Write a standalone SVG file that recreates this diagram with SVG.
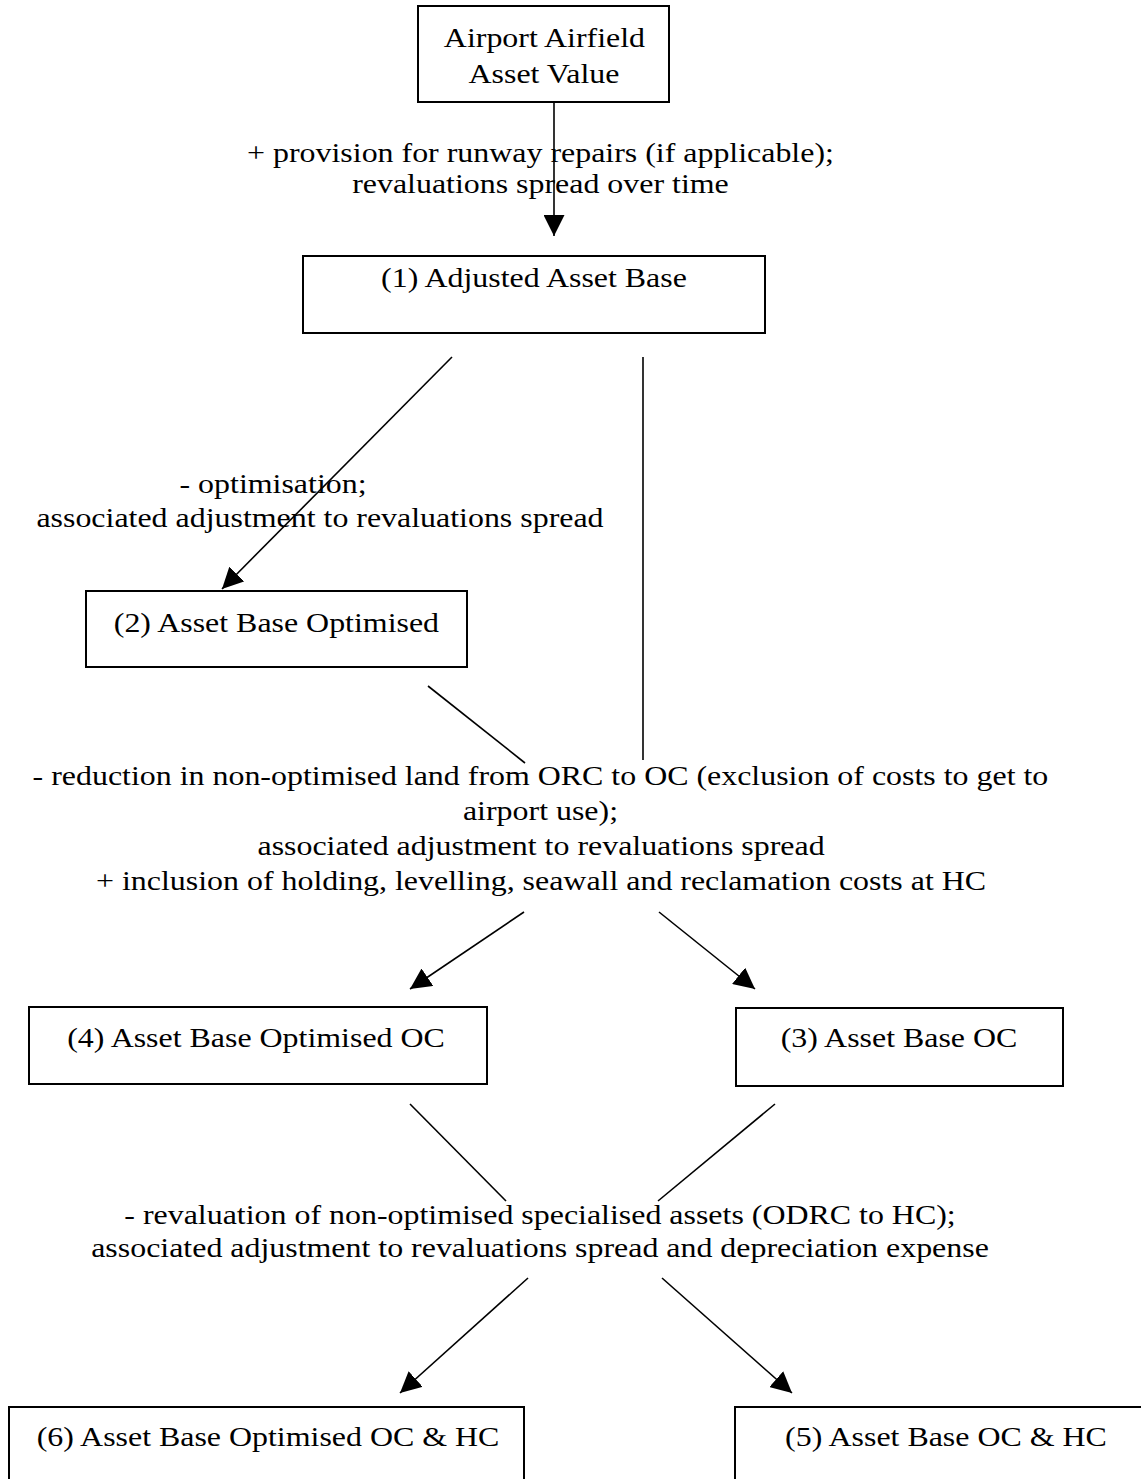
<svg xmlns="http://www.w3.org/2000/svg" width="1141" height="1479" viewBox="0 0 1141 1479">
<style>
.box{fill:#fff;stroke:#000;stroke-width:2}
.t{font-family:"Liberation Serif","Times New Roman",serif;font-size:28px;fill:#000;text-anchor:middle}
.c{stroke:#000;stroke-width:1.6;fill:none}
</style>
<defs>
<marker id="ah" markerWidth="21" markerHeight="21" viewBox="0 0 21 21" refX="21" refY="10.5" orient="auto" markerUnits="userSpaceOnUse">
<path d="M0,0 L21,10.5 L0,21 Z" fill="#000"/>
</marker>
</defs>
<rect width="1141" height="1479" fill="#fff"/>
<g id="connectors">
<line class="c" x1="554" y1="103" x2="554" y2="236" marker-end="url(#ah)"/>
<line class="c" x1="452" y1="357" x2="222" y2="589" marker-end="url(#ah)"/>
<line class="c" x1="643" y1="357" x2="643" y2="760"/>
<line class="c" x1="428" y1="686" x2="525" y2="763"/>
<line class="c" x1="524" y1="912" x2="410" y2="989" marker-end="url(#ah)"/>
<line class="c" x1="659" y1="912" x2="755" y2="989" marker-end="url(#ah)"/>
<line class="c" x1="410" y1="1104" x2="506" y2="1201"/>
<line class="c" x1="775" y1="1104" x2="658" y2="1201"/>
<line class="c" x1="528" y1="1278" x2="400" y2="1393" marker-end="url(#ah)"/>
<line class="c" x1="662" y1="1278" x2="792" y2="1393" marker-end="url(#ah)"/>
</g>
<g id="edge-labels" transform="scale(1.14 1)">
<text class="t" x="474.1" y="162">+ provision for runway repairs (if applicable);</text>
<text class="t" x="474.1" y="193">revaluations spread over time</text>
<text class="t" x="239.5" y="493">- optimisation;</text>
<text class="t" x="280.7" y="527">associated adjustment to revaluations spread</text>
<text class="t" x="474.1" y="785">- reduction in non-optimised land from ORC to OC (exclusion of costs to get to</text>
<text class="t" x="474.1" y="820">airport use);</text>
<text class="t" x="474.6" y="855">associated adjustment to revaluations spread</text>
<text class="t" x="474.6" y="890">+ inclusion of holding, levelling, seawall and reclamation costs at HC</text>
<text class="t" x="473.7" y="1224">- revaluation of non-optimised specialised assets (ODRC to HC);</text>
<text class="t" x="473.7" y="1257">associated adjustment to revaluations spread and depreciation expense</text>
</g>
<g id="node-top">
<rect class="box" x="418" y="6" width="251" height="96"/>
<g transform="scale(1.14 1)">
<text class="t" x="477.6" y="47">Airport Airfield</text>
<text class="t" x="477.2" y="83">Asset Value</text>
</g>
</g>
<g id="node-1">
<rect class="box" x="303" y="256" width="462" height="77"/>
<text class="t" x="468.4" y="287" transform="scale(1.14 1)">(1) Adjusted Asset Base</text>
</g>
<g id="node-2">
<rect class="box" x="86" y="591" width="381" height="76"/>
<text class="t" x="242.5" y="632" transform="scale(1.14 1)">(2) Asset Base Optimised</text>
</g>
<g id="node-4">
<rect class="box" x="29" y="1007" width="458" height="77"/>
<text class="t" x="224.6" y="1047" transform="scale(1.14 1)">(4) Asset Base Optimised OC</text>
</g>
<g id="node-3">
<rect class="box" x="736" y="1008" width="327" height="78"/>
<text class="t" x="788.6" y="1047" transform="scale(1.14 1)">(3) Asset Base OC</text>
</g>
<g id="node-6">
<rect class="box" x="9" y="1407" width="515" height="90"/>
<text class="t" x="235.1" y="1446" transform="scale(1.14 1)">(6) Asset Base Optimised OC &amp; HC</text>
</g>
<g id="node-5">
<rect class="box" x="735" y="1407" width="430" height="90"/>
<text class="t" x="829.8" y="1446" transform="scale(1.14 1)">(5) Asset Base OC &amp; HC</text>
</g>
</svg>
